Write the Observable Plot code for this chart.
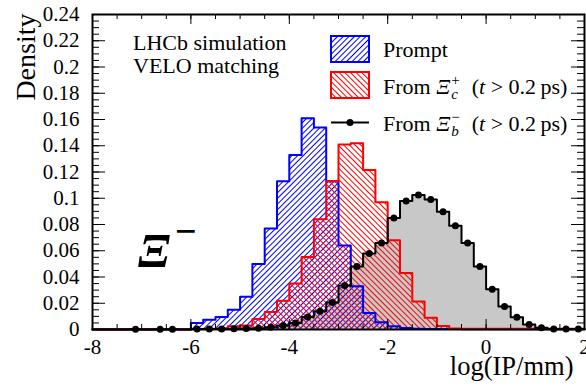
<!DOCTYPE html>
<html><head><meta charset="utf-8">
<script src="https://cdn.jsdelivr.net/npm/d3@7"></script>
<script src="https://cdn.jsdelivr.net/npm/@observablehq/plot@0.6"></script>
<style>
body{margin:0;background:#fff}
svg{display:block}
</style>
</head><body><div id="chart"></div>
<script>
// bin edges of log(IP/mm)
const edges = [-8,-7.75,-7.5,-7.25,-7,-6.75,-6.5,-6.25,-6,-5.75,-5.5,-5.25,-5,-4.75,-4.5,-4.25,-4,-3.75,-3.5,-3.25,-3,-2.75,-2.5,-2.25,-2,-1.75,-1.5,-1.25,-1,-0.75,-0.5,-0.25,0,0.25,0.5,0.75,1,1.25,1.5,1.75,2];

// Prompt
const prompt = [0,0,0,0,0,0,0,0,0.005,0.0075,0.0095,0.015,0.025,0.050,0.077,0.113,0.133,0.161,0.154,0.113,0.064,0.033,0.0125,0.0056,0.0025,0.0011,0.0006,0.0004,0.0003,0.0003,0.0002,0.0002,0.0002,0.0002,0.0002,0.0001,0.0001,0.0001,0.0001,0.0001];
// From Xi_c+
const fromXic = [0.0001,0.0001,0.0001,0.0001,0.0001,0.0001,0.0001,0.0001,0.0003,0.0005,0.001,0.0025,0.003,0.008,0.0133,0.022,0.035,0.0553,0.084,0.113,0.141,0.142,0.1216,0.097,0.068,0.043,0.0214,0.009,0.0026,0.0007,0.0005,0.0005,0.0005,0.0005,0.0005,0.0005,0.0005,0.0005,0.0005,0.0005];
// From Xi_b-
const fromXib = [0,0,0,0.0002,0,0.0002,0.0002,0,0.0003,0.0003,0.0004,0.0005,0.0007,0.001,0.0018,0.003,0.005,0.0095,0.014,0.0205,0.0335,0.048,0.058,0.066,0.085,0.098,0.1024,0.099,0.0897,0.079,0.066,0.048,0.0306,0.0176,0.0094,0.0038,0.0013,0.0004,0.0003,0.0003];

const xMajor = [-8,-6,-4,-2,0,2];
const yMajor = [0,0.02,0.04,0.06,0.08,0.1,0.12,0.14,0.16,0.18,0.2,0.22,0.24];
const xMinor = d3.range(-8, 2.001, 0.5);
const yMinor = d3.range(0, 0.2401, 0.005);

const W = 586, H = 390, ML = 92, MR = 2, MT = 14, MB = 61;
const innerW = W - ML - MR, innerH = H - MT - MB;
const FONT = "'Liberation Serif', 'Times New Roman', serif";

// step data: bin left edges plus closing point at the right edge
const stepData = vals => edges.map((e, i) => ({x: e, v: i < vals.length ? vals[i] : vals[vals.length - 1]}));
const dotData = edges.slice(0, -1).map((e, i) => ({x: (e + edges[i + 1]) / 2, v: fromXib[i]})).filter(d => d.v > 0);

const fmtX = d => d < 0 ? "-" + (-d) : String(d);
const fmtY = d => String(+d.toFixed(2));

const svg = Plot.plot({
  width: W, height: H,
  marginLeft: ML, marginRight: MR, marginTop: MT, marginBottom: MB,
  style: {fontFamily: FONT, fontSize: "21px", background: "#fff", color: "#000"},
  x: {domain: [-8, 2], axis: null},
  y: {domain: [0, 0.24], axis: null},
  marks: [
    Plot.areaY(stepData(fromXib), {x: "x", y: "v", curve: "step-after", fill: "#c8c8c8"}),
    Plot.areaY(stepData(prompt), {x: "x", y: "v", curve: "step-after", fill: "url(#hatchBlue)"}),
    Plot.areaY(stepData(fromXic), {x: "x", y: "v", curve: "step-after", fill: "url(#hatchRed)"}),
    Plot.lineY(stepData(prompt), {x: "x", y: "v", curve: "step-after", stroke: "#0000ff", strokeWidth: 2}),
    Plot.lineY(stepData(fromXic), {x: "x", y: "v", curve: "step-after", stroke: "#ff0000", strokeWidth: 2}),
    Plot.lineY(stepData(fromXib), {x: "x", y: "v", curve: "step-after", stroke: "#000", strokeWidth: 2}),
    Plot.dot(dotData, {x: "x", y: "v", r: 3.5, fill: "#000", stroke: "none"}),
    // inward ticks on all four sides
    Plot.ruleX(xMajor, {insetTop: innerH - 10, stroke: "#000"}),
    Plot.ruleX(xMinor, {insetTop: innerH - 5, stroke: "#000"}),
    Plot.ruleX(xMajor, {insetBottom: innerH - 10, stroke: "#000"}),
    Plot.ruleX(xMinor, {insetBottom: innerH - 5, stroke: "#000"}),
    Plot.ruleY(yMajor, {insetRight: innerW - 13, stroke: "#000"}),
    Plot.ruleY(yMinor, {insetRight: innerW - 7, stroke: "#000"}),
    Plot.ruleY(yMajor, {insetLeft: innerW - 13, stroke: "#000"}),
    Plot.ruleY(yMinor, {insetLeft: innerW - 7, stroke: "#000"}),
    Plot.frame({stroke: "#000", strokeWidth: 2}),
    Plot.axisX(xMajor, {tickSize: 0, tickPadding: 10, tickFormat: fmtX, fontSize: 21, label: null}),
    Plot.axisY(yMajor, {tickSize: 0, tickPadding: 13, tickFormat: fmtY, fontSize: 21, label: null}),
    Plot.text(["log(IP/mm)"], {text: d => d, frameAnchor: "bottom-right", textAnchor: "end", dx: -11, dy: 45, fontSize: 26.5}),
    Plot.text(["Density"], {text: d => d, frameAnchor: "top-left", textAnchor: "end", rotate: -90, dx: -77, dy: -1, fontSize: 28})
  ]
});
document.getElementById("chart").appendChild(svg);

const s = d3.select(svg);
const defs = s.insert("defs", ":first-child");
function hatch(id, color, angle) {
  const p = defs.append("pattern").attr("id", id).attr("patternUnits", "userSpaceOnUse")
    .attr("width", 4).attr("height", 4).attr("patternTransform", `rotate(${angle})`);
  p.append("line").attr("x1", 0.5).attr("y1", -1).attr("x2", 0.5).attr("y2", 5).attr("stroke", color).attr("stroke-width", 1);
}
hatch("hatchBlue", "#0000ff", 45);
hatch("hatchRed", "#ff0000", -45);

const g = s.append("g").style("font-family", FONT).attr("fill", "#000").attr("text-anchor", "start");
const txt = (x, y, t, size, italic, weight) => g.append("text").attr("x", x).attr("y", y)
  .attr("text-anchor", "start").style("white-space", "pre")
  .style("font-size", size + "px").style("font-style", italic ? "italic" : "normal")
  .style("font-weight", weight || "normal").text(t);

txt(133, 50, "LHCb simulation", 22);
txt(133, 72.5, "VELO matching", 22);

// legend
g.append("rect").attr("x", 331).attr("y", 36).attr("width", 38).attr("height", 26)
  .attr("fill", "url(#hatchBlue)").attr("stroke", "#0000ff").attr("stroke-width", 2);
g.append("rect").attr("x", 331).attr("y", 72).attr("width", 38).attr("height", 26)
  .attr("fill", "url(#hatchRed)").attr("stroke", "#ff0000").attr("stroke-width", 2);
g.append("line").attr("x1", 331).attr("x2", 369).attr("y1", 122.5).attr("y2", 122.5).attr("stroke", "#000").attr("stroke-width", 2);
g.append("circle").attr("cx", 350).attr("cy", 122.5).attr("r", 3.5).attr("fill", "#000");

function rich(x, y, parts) {
  let cx = x;
  for (const p of parts) {
    if (p.sup !== undefined) {
      const a = txt(cx + 1, y - 9, p.sup, 15, false);
      const b = txt(cx + 1, y + 5, p.sub, 15, true);
      cx += 2 + Math.max(a.node().getComputedTextLength(), b.node().getComputedTextLength());
    } else {
      const t = txt(cx, y, p.t, 22, p.i);
      cx += t.node().getComputedTextLength();
    }
  }
  return cx;
}
txt(383, 57, "Prompt", 22);
rich(383, 94, [{t: "From "}, {t: "Ξ", i: true}, {sup: "+", sub: "c"}, {t: "  ("}, {t: "t", i: true}, {t: " > 0.2\u2009ps)"}]);
rich(383, 130.5, [{t: "From "}, {t: "Ξ", i: true}, {sup: "\u2212", sub: "b"}, {t: "  ("}, {t: "t", i: true}, {t: " > 0.2\u2009ps)"}]);

// stray Xi^- label in the plot area
txt(138, 267, "Ξ", 49, true, "bold");
txt(175, 244, "\u2212", 38, false, "bold");
</script>
</body></html>
